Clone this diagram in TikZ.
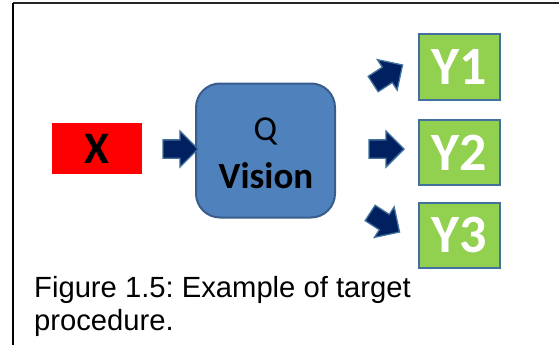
\documentclass[tikz,border=0pt]{standalone}
\usepackage{fontspec}
\setmainfont{Carlito}
\newfontfamily\capfont{Liberation Sans}
\usetikzlibrary{shapes.arrows}
\frenchspacing
\definecolor{navy}{HTML}{002060}
\definecolor{arrowedge}{HTML}{41719C}
\definecolor{qfill}{HTML}{4F81BD}
\definecolor{qedge}{HTML}{385D8A}
\definecolor{yfill}{HTML}{92D050}
\definecolor{yedge}{HTML}{41719C}
\newcommand{\shaftstrut}{\rule{0pt}{17pt}}
\tikzset{
  blockarrow/.style={single arrow, draw=arrowedge, fill=navy, line width=1.3pt,
    inner sep=0pt, minimum height=35pt,
    single arrow head extend=9pt, single arrow head indent=0pt},
  ybox/.style={draw=yedge, fill=yfill, line width=2pt, minimum width=81pt,
    minimum height=65pt, inner sep=0pt, text=white,
    font=\fontsize{54}{54}\selectfont\bfseries},
  caption/.style={anchor=base west, inner sep=0pt,
    font=\capfont\fontsize{29.2}{30}\selectfont},
}
\begin{document}
\begin{tikzpicture}[x=1pt,y=-1pt]
\useasboundingbox (0,0) rectangle (559,345);
% frame lines (top and left)
\draw[line width=2pt, black!85] (13,3.5) -- (559,3.5);
\draw[line width=2pt, black] (13,3.5) -- (13,345);
% input
\node[fill=red, minimum width=90pt, minimum height=51pt, inner sep=0pt,
  font=\fontsize{45}{45}\selectfont\bfseries] (x) at (97,148.5) {X};
% processing block
\node[draw=qedge, fill=qfill, line width=2pt, rounded corners=24pt,
  minimum width=139pt, minimum height=134pt, inner sep=0pt] (q) at (265.5,150.5) {};
\node[anchor=base, inner sep=0pt, font=\fontsize{35}{35}\selectfont] (qlab) at (265.5,140) {Q};
\node[anchor=base, inner sep=0pt, font=\fontsize{37}{37}\selectfont\bfseries] (vlab) at (266,188) {Vision};
% outputs
\node[ybox] (y1) at (459.5,67) {Y1};
\node[ybox] (y2) at (459.5,152.5) {Y2};
\node[ybox] (y3) at (459.5,235) {Y3};
% block arrows
\node[blockarrow] (a0) at (176,149) {\shaftstrut};
\node[blockarrow, rotate=33] (a1) at (384,77) {\shaftstrut};
\node[blockarrow] (a2) at (382,149) {\shaftstrut};
\node[blockarrow, rotate=-33] (a3) at (381,220) {\shaftstrut};
% caption
\node[caption] (cap1) at (34,297) {Figure 1.5: Example of target};
\node[caption] (cap2) at (34,330) {procedure.};
\end{tikzpicture}
\end{document}
